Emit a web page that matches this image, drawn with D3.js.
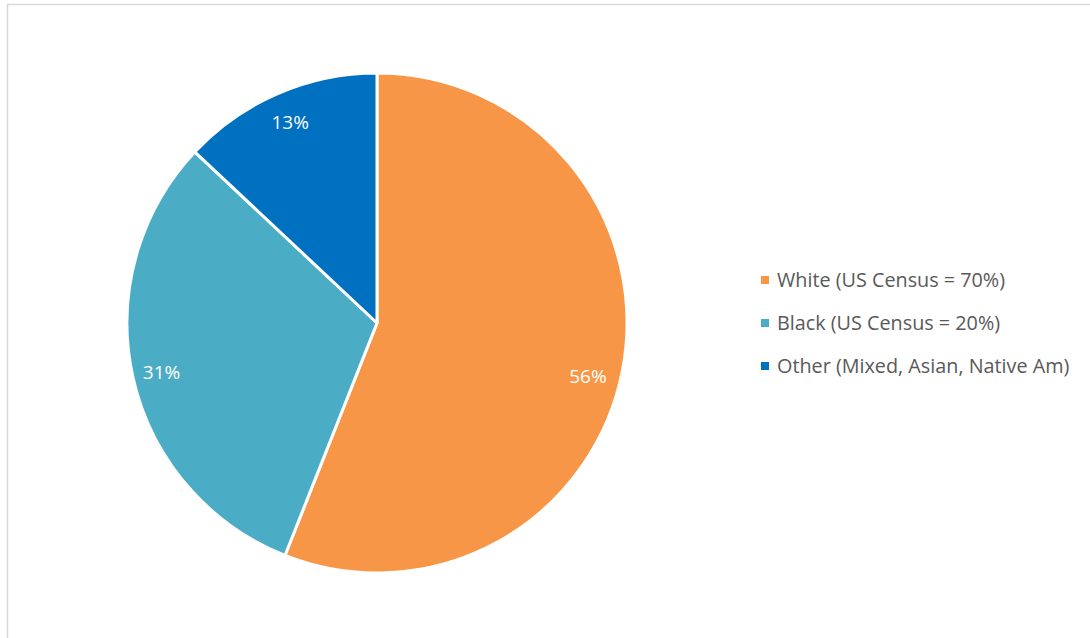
<!DOCTYPE html>
<html lang="en">
<head>
  <meta charset="UTF-8">
  <script src="https://d3js.org/d3.v7.min.js"></script>
  <title>Pie</title>
  <style>
    body { margin: 0; background: #fff; }
    svg { display: block; }
  </style>
</head>
<body>
  <svg width="1090" height="638"></svg>
  <script>
    // data
    var categories = ["White (US Census = 70%)", "Black (US Census = 20%)", "Other (Mixed, Asian, Native Am)"]
    var values = [56, 31, 13]
    var colors = ["#F79646", "#4BACC6", "#0070C0"]

    var svg = d3.select("svg")
    var font = "'Open Sans', 'Liberation Sans', sans-serif"

    // chart frame
    svg.append("rect")
      .attr("x", 7.5).attr("y", 4.5)
      .attr("width", 1100).attr("height", 700)
      .attr("fill", "none")
      .attr("stroke", "#d9d9d9")
      .attr("stroke-width", 1.5)

    var cx = 377, cy = 323, R = 250

    var pie = d3.pie().sort(null).value(function(d){ return d })
    var arcs = pie(values)
    var arc = d3.arc().innerRadius(0).outerRadius(R)
    var labelArc = d3.arc().innerRadius(R * 0.875).outerRadius(R * 0.875)

    var g = svg.append("g").attr("transform", "translate(" + cx + "," + cy + ")")

    g.selectAll("path")
      .data(arcs)
      .enter()
      .append("path")
      .attr("d", arc)
      .attr("fill", function(d, i){ return colors[i] })
      .attr("stroke", "#fff")
      .attr("stroke-width", 3)
      .attr("stroke-linejoin", "round")

    // excel's best-fit puts the big slice label a bit lower
    var nudge = [[-4, 12], [-2, 2], [0, 0]]

    g.selectAll("text")
      .data(arcs)
      .enter()
      .append("text")
      .attr("transform", function(d, i){
        var c = labelArc.centroid(d)
        return "translate(" + (c[0] + nudge[i][0]) + "," + (c[1] + nudge[i][1]) + ")"
      })
      .attr("text-anchor", "middle")
      .attr("dy", "0.35em")
      .attr("fill", "#fff")
      .style("font-family", font)
      .style("font-size", "19px")
      .text(function(d){ return d.data + "%" })

    // legend
    var legend = svg.append("g")
    var rowY = d3.scalePoint().domain(categories).range([280, 366])

    var rows = legend.selectAll("g")
      .data(categories)
      .enter()
      .append("g")
      .attr("transform", function(d){ return "translate(761," + rowY(d) + ")" })

    rows.append("rect")
      .attr("x", 0).attr("y", -4)
      .attr("width", 8).attr("height", 8)
      .attr("fill", function(d, i){ return colors[i] })

    rows.append("text")
      .attr("x", 16)
      .attr("dy", "0.35em")
      .attr("fill", "#595959")
      .style("font-family", font)
      .style("font-size", "19.8px")
      .text(function(d){ return d })
  </script>
</body>
</html>
